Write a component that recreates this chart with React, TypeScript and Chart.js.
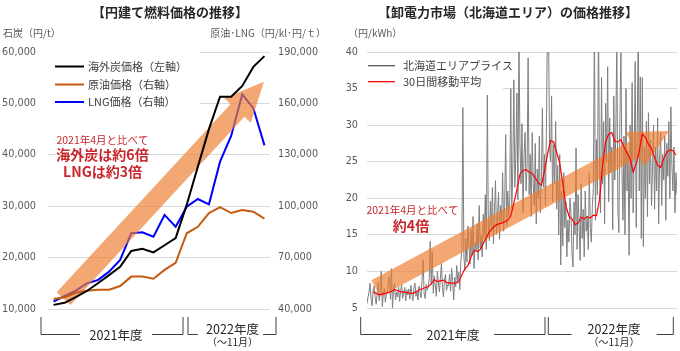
import React, { useEffect, useRef } from 'react';
import { Chart, registerables } from 'chart.js';

Chart.register(...registerables);

// ---------- Left chart data (monthly, 2021/04 - 2022/11) ----------
const months = [
  '2021/04', '2021/05', '2021/06', '2021/07', '2021/08', '2021/09', '2021/10', '2021/11', '2021/12',
  '2022/01', '2022/02', '2022/03', '2022/04', '2022/05', '2022/06', '2022/07', '2022/08', '2022/09',
  '2022/10', '2022/11',
];
const coalPrice = [10800, 11200, 12300, 13500, 15000, 16600, 18200, 21300, 21700, 21000, 22400, 23800, 30300, 37700, 45000, 51300, 51300, 53400, 57100, 59200];
const crudePrice = [45800, 46800, 49500, 50700, 51300, 51300, 53400, 58900, 58900, 57700, 62800, 67000, 84200, 88000, 96000, 99500, 96000, 97800, 96800, 92700];
const lngPrice = [44300, 47600, 50700, 55000, 56900, 61800, 68600, 84200, 84800, 82200, 94900, 88000, 99700, 104200, 101100, 126000, 141000, 165300, 157200, 135500];
const leftTicksCoal = [10000, 20000, 30000, 40000, 50000, 60000];
const leftTicksOil = [40000, 70000, 100000, 130000, 160000, 190000];

// ---------- Right chart data (Hokkaido spot price, 円/kWh) ----------
const grayStepDays = 2; // one value every 2 days from 2021/04/01
const hokkaidoPrice = [
  5.6, 6.5, 7.2, 8.4, 6.2, 5.3, 7.5, 8.0, 6.4, 5.5, 7.0, 8.6, 6.0, 7.3, 10.0, 5.2, 6.8, 7.7, 5.8, 6.9,
  7.0, 8.8, 9.3, 6.2, 10.4, 5.0, 7.6, 8.3, 6.1, 7.2, 6.5, 7.9, 5.9, 7.4, 8.2, 6.3, 7.0, 7.8, 6.0, 7.5,
  6.8, 7.6, 6.2, 8.1, 7.0, 6.0, 7.7, 8.4, 6.6, 7.3, 6.1, 8.0, 7.2, 6.4, 9.0, 11.6, 7.0, 6.3, 8.2, 7.4,
  7.8, 9.0, 14.1, 8.2, 12.7, 7.0, 9.4, 8.1, 6.6, 10.0, 8.5, 7.2, 9.1, 11.1, 7.8, 6.5, 8.9, 9.6, 7.4, 8.2,
  8.0, 9.6, 7.3, 10.4, 8.8, 6.1, 9.2, 7.9, 10.8, 8.4, 9.9, 7.5, 11.2, 13.0, 32.4, 12.0, 10.1, 14.5, 11.3, 16.2,
  13.5, 11.0, 15.8, 12.2, 17.5, 10.4, 14.0, 12.8, 16.5, 11.6, 19.0, 13.2, 15.0, 12.0, 17.8, 14.6, 20.5, 13.0, 34.1, 16.0,
  14.2, 19.6, 16.0, 21.5, 13.8, 18.2, 22.4, 15.1, 17.6, 20.8, 14.4, 19.0, 16.8, 23.5, 15.5, 18.9, 28.7, 16.2, 21.0, 17.5,
  20.0, 35.0, 18.5, 24.0, 36.2, 21.5, 26.0, 34.4, 19.8, 42.0, 27.5, 22.0, 30.2, 18.0, 25.8, 29.0, 21.0, 24.5, 39.2, 20.5,
  26.0, 17.5, 29.0, 22.0, 19.0, 27.5, 16.5, 24.0, 20.0, 28.5, 18.0, 23.0, 32.3, 21.5, 26.0, 19.0, 30.0, 45.0, 44.0, 27.0,
  25.0, 34.0, 19.5, 27.3, 22.0, 30.5, 18.5, 24.5, 15.0, 26.0, 10.9, 21.0, 13.5, 23.5, 16.0, 19.5, 12.0, 17.0, 14.0, 20.0,
  18.0, 12.5, 10.6, 19.5, 15.0, 26.9, 13.0, 20.5, 16.5, 11.5, 22.0, 14.5, 18.5, 12.0, 21.0, 15.5, 17.5, 13.0, 23.5, 16.0,
  14.0, 19.0, 21.5, 44.0, 17.0, 28.0, 20.5, 45.0, 24.0, 18.0, 36.5, 22.0, 30.5, 16.5, 33.0, 25.0, 38.0, 19.5, 31.0, 23.5,
  27.0, 15.7, 34.0, 22.5, 29.0, 42.0, 18.5, 15.3, 31.0, 39.9, 24.0, 17.0, 28.5, 15.0, 35.0, 21.0, 26.5, 12.2, 30.0, 20.0,
  35.8, 18.0, 25.0, 38.7, 16.0, 29.0, 44.0, 21.0, 36.6, 14.5, 36.5, 13.4, 27.0, 20.0, 30.5, 17.5, 31.7, 22.0, 28.0, 19.0,
  24.0, 30.0, 18.5, 27.0, 21.0, 31.0, 16.5, 25.5, 29.0, 19.0, 26.0, 22.5, 28.5, 17.0, 27.5, 23.0, 30.5, 20.0, 32.5, 24.5,
  21.0, 27.0, 18.0, 23.5, 20.5,
];
const maStartDay = 12;
const maStepDays = 6;
const movingAverage30 = [
  7.2, 7.0, 6.8, 6.9, 7.0, 7.1, 7.3, 7.5, 7.4, 7.2,
  7.2, 7.1, 7.0, 7.0, 7.2, 7.5, 7.6, 7.8, 7.9, 8.3,
  8.9, 8.6, 8.7, 8.8, 8.5, 8.4, 8.4, 8.4, 8.6, 9.5,
  10.4, 10.8, 12.0, 12.9, 12.7, 13.0, 13.8, 14.6, 15.4, 15.9,
  16.3, 16.5, 16.6, 16.8, 17.0, 17.6, 19.3, 21.2, 23.3, 23.8,
  23.9, 23.6, 23.4, 22.8, 22.1, 21.8, 23.7, 26.0, 27.9, 27.7,
  26.3, 24.8, 22.0, 19.0, 17.6, 17.2, 16.4, 16.6, 17.4, 17.2,
  17.5, 17.3, 17.7, 17.6, 19.8, 24.5, 27.7, 28.8, 29.0, 27.8,
  27.7, 28.0, 27.0, 26.2, 25.4, 23.6, 24.7, 26.5, 28.8, 28.3,
  27.4, 26.8, 25.6, 24.5, 24.2, 25.4, 26.3, 26.6, 26.5, 25.9,
];
const rightTicks = [5, 10, 15, 20, 25, 30, 35, 40];

// ---------- Styling ----------
const JP = '"Noto Sans CJK JP", "Noto Sans", sans-serif';
const NUM = '"DejaVu Sans", sans-serif';
const GRID = '#d9d9d9';
const TICK = '#595959';
const ARROW = 'rgba(237,125,49,0.68)';
const RED_TEXT = '#C8282D';

function text(ctx: CanvasRenderingContext2D, s: string, x: number, y: number, font: string, color: string, align: CanvasTextAlign = 'center') {
  ctx.save();
  ctx.font = font;
  ctx.fillStyle = color;
  ctx.textAlign = align;
  ctx.textBaseline = 'middle';
  ctx.fillText(s, x, y);
  ctx.restore();
}

function arrow(ctx: CanvasRenderingContext2D, x0: number, y0: number, x1: number, y1: number, sw: number, hw: number, hl: number) {
  const dx = x1 - x0, dy = y1 - y0;
  const L = Math.hypot(dx, dy);
  const ux = dx / L, uy = dy / L;
  const nx = -uy, ny = ux;
  const bx = x1 - ux * hl, by = y1 - uy * hl;
  ctx.save();
  ctx.fillStyle = ARROW;
  ctx.beginPath();
  ctx.moveTo(x0 + nx * sw, y0 + ny * sw);
  ctx.lineTo(bx + nx * sw, by + ny * sw);
  ctx.lineTo(bx + nx * hw, by + ny * hw);
  ctx.lineTo(x1, y1);
  ctx.lineTo(bx - nx * hw, by - ny * hw);
  ctx.lineTo(bx - nx * sw, by - ny * sw);
  ctx.lineTo(x0 - nx * sw, y0 - ny * sw);
  ctx.closePath();
  ctx.fill();
  ctx.restore();
}

function bracket(ctx: CanvasRenderingContext2D, xl: number, gl: number, gr: number, xr: number) {
  const top = 317, bot = 334.5;
  ctx.save();
  ctx.strokeStyle = '#404040';
  ctx.lineWidth = 1;
  ctx.beginPath();
  ctx.moveTo(xl, top); ctx.lineTo(xl, bot); ctx.lineTo(gl, bot);
  ctx.moveTo(gr, bot); ctx.lineTo(xr, bot); ctx.lineTo(xr, top);
  ctx.stroke();
  ctx.restore();
}

function legendItem(ctx: CanvasRenderingContext2D, x: number, y: number, len: number, color: string, w: number, label: string, tx: number, size: number) {
  ctx.save();
  ctx.strokeStyle = color;
  ctx.lineWidth = w;
  ctx.beginPath();
  ctx.moveTo(x, y); ctx.lineTo(x + len, y);
  ctx.stroke();
  ctx.restore();
  text(ctx, label, tx, y, `${size}px ${JP}`, '#404040', 'left');
}

const leftDecor = {
  id: 'leftDecor',
  afterDatasetDraw(chart: any, args: any) {
    if (args.index !== 2) return;
    const xs = chart.scales.x, ys = chart.scales.y;
    arrow(chart.ctx, xs.getPixelForValue(0.9), ys.getPixelForValue(12040), xs.getPixelForValue(18.96), ys.getPixelForValue(54200), 9.4, 18, 39);
  },
  afterDraw(chart: any) {
    const ctx = chart.ctx as CanvasRenderingContext2D;
    const a = chart.chartArea;
    // legend box
    ctx.save();
    ctx.fillStyle = '#fff';
    ctx.fillRect(a.left, a.top - 4, 152, 60);
    ctx.restore();
    legendItem(ctx, 55, 66.5, 29, '#000000', 2, '海外炭価格（左軸）', 88, 11);
    legendItem(ctx, 55, 84.5, 29, '#C55A11', 2, '原油価格（右軸）', 88, 11);
    legendItem(ctx, 55, 102, 29, '#0000FF', 2, 'LNG価格（右軸）', 88, 11);
    // title & unit labels
    text(ctx, '【円建て燃料価格の推移】', 170, 12, `bold 13px ${JP}`, '#262626');
    text(ctx, '石炭（円/t）', 3, 33, `10px ${JP}`, TICK, 'left');
    text(ctx, '原油･LNG（円/kl･円/ｔ）', 326, 33, `10px ${JP}`, TICK, 'right');
    // annotation
    text(ctx, '2021年4月と比べて', 102.5, 140, `10.5px ${JP}`, RED_TEXT);
    text(ctx, '海外炭は約6倍', 102.5, 155, `bold 14px ${JP}`, RED_TEXT);
    text(ctx, 'LNGは約3倍', 102.5, 172, `bold 14px ${JP}`, RED_TEXT);
    // fiscal year brackets
    bracket(ctx, 41, 80, 152, 183);
    bracket(ctx, 188, 198, 263, 276);
    text(ctx, '2021年度', 116, 335, `12.5px ${JP}`, '#262626');
    text(ctx, '2022年度', 232.5, 329, `12.5px ${JP}`, '#262626');
    text(ctx, '（～11月）', 232.5, 342.5, `10px ${JP}`, '#262626');
  },
};

const rightDecor = {
  id: 'rightDecor',
  afterDatasetDraw(chart: any, args: any) {
    if (args.index !== 1) return;
    const xs = chart.scales.x, ys = chart.scales.y;
    arrow(chart.ctx, xs.getPixelForValue(17.3), ys.getPixelForValue(7.68), xs.getPixelForValue(592.4), ys.getPixelForValue(29.2), 9.3, 19.7, 38.7);
  },
  afterDraw(chart: any) {
    const ctx = chart.ctx as CanvasRenderingContext2D;
    const a = chart.chartArea;
    ctx.save();
    ctx.fillStyle = '#fff';
    ctx.fillRect(a.left, 55, 136, 38);
    ctx.restore();
    legendItem(ctx, 28, 65.7, 27, '#595959', 1.3, '北海道エリアプライス', 63, 11);
    legendItem(ctx, 28, 81.7, 27, '#FF0000', 1.3, '30日間移動平均', 63, 11);
    text(ctx, '【卸電力市場（北海道エリア）の価格推移】', 168, 12, `bold 13px ${JP}`, '#262626');
    text(ctx, '（円/kWh）', 8, 33, `10px ${JP}`, TICK, 'left');
    text(ctx, '2021年4月と比べて', 72.5, 210, `10.5px ${JP}`, RED_TEXT);
    text(ctx, '約4倍', 71, 226, `bold 14px ${JP}`, RED_TEXT);
    bracket(ctx, 20.7, 71.7, 154, 205);
    bracket(ctx, 208.3, 231.7, 316.7, 333.3);
    text(ctx, '2021年度', 113, 335, `12.5px ${JP}`, '#262626');
    text(ctx, '2022年度', 274, 329, `12.5px ${JP}`, '#262626');
    text(ctx, '（～11月）', 274, 342.5, `10px ${JP}`, '#262626');
  },
};

export default function App() {
  const leftRef = useRef<HTMLCanvasElement | null>(null);
  const rightRef = useRef<HTMLCanvasElement | null>(null);

  useEffect(() => {
    const fmt = (v: any) => Number(v).toLocaleString('en-US');
    const left = new Chart(leftRef.current as HTMLCanvasElement, {
      type: 'line',
      data: {
        labels: months,
        datasets: [
          { label: '海外炭価格（左軸）', data: coalPrice, borderColor: '#000000', borderWidth: 2, pointRadius: 0, tension: 0, yAxisID: 'y' },
          { label: '原油価格（右軸）', data: crudePrice, borderColor: '#C55A11', borderWidth: 2, pointRadius: 0, tension: 0, yAxisID: 'y1' },
          { label: 'LNG価格（右軸）', data: lngPrice, borderColor: '#0000FF', borderWidth: 2, pointRadius: 0, tension: 0, yAxisID: 'y1' },
        ],
      },
      options: {
        responsive: false,
        animation: false,
        devicePixelRatio: 1,
        layout: { padding: { top: 52, bottom: 42, left: 0, right: 0 } },
        plugins: { legend: { display: false }, tooltip: { enabled: false }, title: { display: false } },
        scales: {
          x: { display: false, offset: true },
          y: {
            position: 'left', min: leftTicksCoal[0], max: leftTicksCoal[leftTicksCoal.length - 1],
            afterBuildTicks: (s: any) => { s.ticks = leftTicksCoal.map((v) => ({ value: v })); },
            ticks: { padding: 12, color: TICK, font: { family: NUM, size: 9.7 }, callback: fmt },
            grid: { color: GRID, drawTicks: false, lineWidth: 1 },
            border: { display: false },
            afterFit: (s: any) => { s.width = 48; },
          },
          y1: {
            position: 'right', min: leftTicksOil[0], max: leftTicksOil[leftTicksOil.length - 1],
            afterBuildTicks: (s: any) => { s.ticks = leftTicksOil.map((v) => ({ value: v })); },
            ticks: { padding: 8, color: TICK, font: { family: NUM, size: 9.7 }, callback: fmt },
            grid: { drawOnChartArea: false, drawTicks: false },
            border: { display: false },
            afterFit: (s: any) => { s.width = 70; },
          },
        },
      } as any,
      plugins: [leftDecor],
    });

    const right = new Chart(rightRef.current as HTMLCanvasElement, {
      type: 'line',
      data: {
        datasets: [
          {
            label: '30日間移動平均',
            data: movingAverage30.map((v, i) => ({ x: maStartDay + i * maStepDays, y: v })),
            borderColor: '#FF0000', borderWidth: 1.2, pointRadius: 0, tension: 0,
          },
          {
            label: '北海道エリアプライス',
            data: hokkaidoPrice.map((v, i) => ({ x: i * grayStepDays, y: v })),
            borderColor: '#7f7f7f', borderWidth: 1, pointRadius: 0, tension: 0,
          },
        ],
      },
      options: {
        responsive: false,
        animation: false,
        devicePixelRatio: 1,
        layout: { padding: { top: 52, bottom: 43, left: 0, right: 3 } },
        plugins: { legend: { display: false }, tooltip: { enabled: false }, title: { display: false } },
        scales: {
          x: { type: 'linear', display: false, min: 0, max: (hokkaidoPrice.length - 1) * grayStepDays },
          y: {
            min: rightTicks[0], max: rightTicks[rightTicks.length - 1],
            afterBuildTicks: (s: any) => { s.ticks = rightTicks.map((v) => ({ value: v })); },
            ticks: { padding: 9, color: TICK, font: { family: NUM, size: 9.7 } },
            grid: { color: GRID, drawTicks: false, lineWidth: 1 },
            border: { display: false },
            afterFit: (s: any) => { s.width = 27; },
          },
        },
      } as any,
      plugins: [rightDecor],
    });

    return () => {
      left.destroy();
      right.destroy();
    };
  }, []);

  return (
    <div style={{ position: 'fixed', left: 0, top: 0, width: 680, height: 351, background: '#fff', display: 'flex' }}>
      <canvas ref={leftRef} width={340} height={351} style={{ display: 'block', width: 340, height: 351 }} />
      <canvas ref={rightRef} width={340} height={351} style={{ display: 'block', width: 340, height: 351 }} />
    </div>
  );
}
